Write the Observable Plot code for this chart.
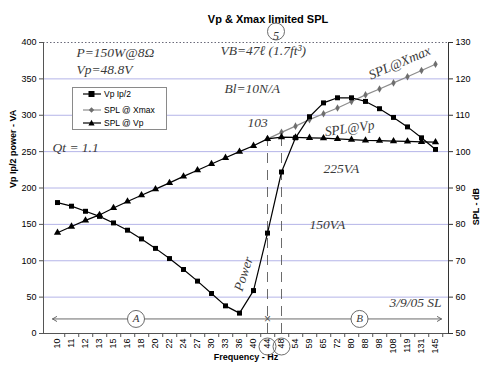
<!DOCTYPE html>
<html>
<head>
<meta charset="utf-8">
<script src="https://cdn.jsdelivr.net/npm/d3@7"></script>
<script src="https://cdn.jsdelivr.net/npm/@observablehq/plot@0.6"></script>
<style>
  body { margin: 0; background: #fff; }
  #wrap { position: relative; width: 488px; height: 371px; overflow: hidden; }
  #legend { position: absolute; left: 72px; top: 87px; width: 95px; height: 43px;
    border: 1px solid #8a8a8a; background: #fff; box-sizing: border-box;
    font: 8.5px "Liberation Sans", Arial, sans-serif; color: #000; }
  #legend .row { position: absolute; left: 0; height: 10px; display: flex; align-items: center; }
  #legend svg { display: block; }
  #legend span { margin-left: 3px; white-space: nowrap; }
</style>
</head>
<body>
<div id="wrap"><div id="chart"></div><div id="legend"></div></div>
<script>
// ---- data ----
const freqs = ["10","11","12","13","15","16","18","20","22","24","27","30","33","36","40","44","48","54","59","65","72","80","88","98","108","119","131","145"];
const vpPower = [180,175,168,161,152,142,130,117,103,88,72,55,38,28,59,138,222,269,298,317,324,324,319,309,297,284,269,253];
const splVp = [77.7,79.4,81.1,82.6,84.5,86.3,88,89.7,91.4,93.2,94.9,96.6,98.3,100,101.6,103.5,104,103.9,103.8,103.7,103.5,103.3,103.1,103,102.9,102.8,102.7,102.6];
const xmaxFreqs = ["44","48","54","59","65","72","80","88","98","108","119","131","145"];
const splXmax = [103.5,105.3,107,108.8,110.4,112,113.8,115.6,117.2,118.9,120.6,122.3,124];
const leftTicks = [0,50,100,150,200,250,300,350,400];
const rightTicks = [50,60,70,80,90,100,110,120,130];
const seriesNames = ["Vp Ip/2","SPL @ Xmax","SPL @ Vp"];

// handwritten notes (anchored in data space: frequency category + left-axis value)
const notes = [
  {f:"11", v:386, t:"P=150W@8Ω", dx:5, rot:0, a:"start"},
  {f:"11", v:362, t:"Vp=48.8V", dx:5, rot:0, a:"start"},
  {f:"30", v:389, t:"VB=47ℓ (1.7ft³)", dx:9, rot:0, a:"start"},
  {f:"30", v:337, t:"Bl=10N/A", dx:13, rot:0, a:"start"},
  {f:"10", v:256, t:"Qt = 1.1", dx:-5, rot:0, a:"start"},
  {f:"40", v:290, t:"103", dx:4, rot:0, a:"middle"},
  {f:"65", v:226, t:"225VA", dx:0, rot:0, a:"start"},
  {f:"59", v:149, t:"150VA", dx:0, rot:0, a:"start"},
  {f:"36", v:82, t:"Power", dx:4, rot:-72, a:"middle"},
  {f:"108", v:372, t:"SPL@Xmax", dx:6, rot:-23, a:"middle"},
  {f:"80", v:282, t:"SPL@Vp", dx:-2, rot:-8, a:"middle"},
  {f:"119", v:43, t:"3/9/05 SL", dx:8, rot:0, a:"middle"}
];
const circled = [
  {f:"16", v:20, t:"A", dx:8.5},
  {f:"80", v:20, t:"B", dx:8}
];

const toLeft = db => (db - 50) * 5;
const powerData = freqs.map((f, i) => ({f, v: vpPower[i]}));
const vpData = freqs.map((f, i) => ({f, v: toLeft(splVp[i])}));
const xmaxData = xmaxFreqs.map((f, i) => ({f, v: toLeft(splXmax[i])}));

const W = 488, H = 371, mL = 43, mR = 40, mT = 42, mB = 38;
const step = (W - mL - mR) / freqs.length;
const hand = {fontFamily: "Liberation Serif, serif", fontStyle: "italic", fontSize: 13.5, fill: "#3a3a3a"};
const pencil = "#5a5a5a";

const chart = Plot.plot({
  width: W, height: H,
  marginTop: mT, marginBottom: mB, marginLeft: mL, marginRight: mR,
  style: {fontFamily: "Liberation Sans, Arial, sans-serif", fontSize: "9px", background: "#fff", color: "#000"},
  x: {type: "point", domain: freqs, padding: 0.5},
  y: {domain: [0, 400]},
  marks: [
    Plot.ruleY(leftTicks.slice(1, -1), {stroke: "#b4b4e8", strokeWidth: 1}),
    Plot.ruleY([400], {stroke: "#6a6a7a", strokeDasharray: "1.5,2"}),
    Plot.ruleY([0], {stroke: "#555"}),
    Plot.frame({anchor: "left", stroke: "#555"}),
    Plot.frame({anchor: "right", stroke: "#333"}),
    Plot.axisY({ticks: leftTicks, tickSize: 4, tickPadding: 3, label: null, stroke: "#555"}),
    Plot.axisY({anchor: "right", ticks: rightTicks.map(toLeft), tickFormat: d => d / 5 + 50, tickSize: 4, tickPadding: 3, label: null, stroke: "#333"}),
    Plot.axisX({tickRotate: -90, tickSize: 0, tickPadding: 5, label: null}),
    Plot.axisX({text: null, tickSize: 4, dx: step / 2, label: null, stroke: "#555"}),
    // axis titles & chart title
    Plot.text(["Vp & Xmax limited SPL"], {frameAnchor: "top", dx: 22, dy: -27, fontWeight: "bold", fontSize: 11}),
    Plot.text(["Vp Ip/2 power - VA"], {frameAnchor: "left", rotate: -90, dx: -30, fontWeight: "bold", fontSize: 9}),
    Plot.text(["SPL - dB"], {frameAnchor: "right", rotate: -90, dx: 28, fontWeight: "bold", fontSize: 9}),
    Plot.text(["Frequency - Hz"], {frameAnchor: "bottom", dy: 26, fontWeight: "bold", fontSize: 9}),
    // pencil annotations: guide lines
    Plot.ruleY([150], {x1: "13", x2: "54", stroke: "#888", strokeDasharray: "9,5", strokeWidth: 1.2}),
    Plot.ruleY([228], {x1: "40", x2: "59", stroke: pencil, strokeWidth: 0.8}),
    Plot.ruleY([228], {x1: "40", x2: "59", stroke: pencil, strokeWidth: 6, strokeDasharray: "0.8,3.5"}),
    Plot.ruleX(["44", "48"], {y1: 0, y2: 273, stroke: pencil, strokeDasharray: "10,7", strokeWidth: 0.9}),
    Plot.ruleY([323], {x1: "30", x2: "54", dx: 9, stroke: pencil, strokeWidth: 1}),
    Plot.arrow([{a: "44", b: "10"}], {x1: "a", x2: "b", y1: () => 20, y2: () => 20, stroke: pencil, strokeWidth: 0.9, insetEnd: -5, headLength: 8}),
    Plot.arrow([{a: "44", b: "145"}], {x1: "a", x2: "b", y1: () => 20, y2: () => 20, stroke: pencil, strokeWidth: 0.9, insetEnd: -6, headLength: 8}),
    Plot.text(["×"], {x: () => "44", y: () => 20, fontSize: 12, fill: pencil}),
    Plot.dot(["44", "48"], {x: d => d, frameAnchor: "bottom", dy: 13, r: 8.5, stroke: pencil, strokeWidth: 0.9}),
    Plot.dot([0], {frameAnchor: "top", dx: 30, dy: -11, r: 8.5, stroke: pencil, fill: "#fff", strokeWidth: 0.9}),
    Plot.text(["5"], {frameAnchor: "top", dx: 30, dy: -11, ...hand, fontSize: 12}),
    ...circled.map(c => Plot.dot([c], {x: "f", y: "v", dx: c.dx, r: 8.5, fill: "#fff", stroke: pencil, strokeWidth: 0.9})),
    ...circled.map(c => Plot.text([c], {x: "f", y: "v", text: "t", dx: c.dx, ...hand, fontSize: 11})),
    ...notes.map(n => Plot.text([n], {x: "f", y: "v", text: "t", dx: n.dx, rotate: n.rot, textAnchor: n.a, ...hand})),
    // series
    Plot.line(xmaxData, {x: "f", y: "v", stroke: "#8c8c8c", strokeWidth: 1.2}),
    Plot.dot(xmaxData, {x: "f", y: "v", symbol: "diamond", r: 2.3, fill: "#6e6e6e"}),
    Plot.line(vpData, {x: "f", y: "v", stroke: "#000", strokeWidth: 1.2}),
    Plot.dot(vpData, {x: "f", y: "v", symbol: "triangle", r: 2.7, fill: "#000"}),
    Plot.line(powerData, {x: "f", y: "v", stroke: "#000", strokeWidth: 1.2}),
    Plot.dot(powerData, {x: "f", y: "v", symbol: "square", r: 2.8, fill: "#000"})
  ]
});
document.getElementById("chart").appendChild(chart);

// legend
const legend = document.getElementById("legend");
const swatch = [
  {stroke: "#000", sym: "square", fill: "#000"},
  {stroke: "#8c8c8c", sym: "diamond", fill: "#6e6e6e"},
  {stroke: "#000", sym: "triangle", fill: "#000"}
];
const tops = [1, 17, 29.5];
seriesNames.forEach((name, i) => {
  const row = document.createElement("div");
  row.className = "row";
  row.style.top = tops[i] + "px";
  row.style.left = "10px";
  const s = swatch[i];
  let shape;
  if (s.sym === "square") shape = `<rect x="5.5" y="2" width="6" height="6" fill="${s.fill}"/>`;
  else if (s.sym === "diamond") shape = `<path d="M8.5 2.3 L11.2 5 L8.5 7.7 L5.8 5 Z" fill="${s.fill}"/>`;
  else shape = `<path d="M8.5 1.8 L11.6 7.5 L5.4 7.5 Z" fill="${s.fill}"/>`;
  row.innerHTML = `<svg width="18" height="10"><line x1="0" x2="18" y1="5" y2="5" stroke="${s.stroke}" stroke-width="1.2"/>${shape}</svg><span>${name}</span>`;
  legend.appendChild(row);
});
</script>
</body>
</html>
